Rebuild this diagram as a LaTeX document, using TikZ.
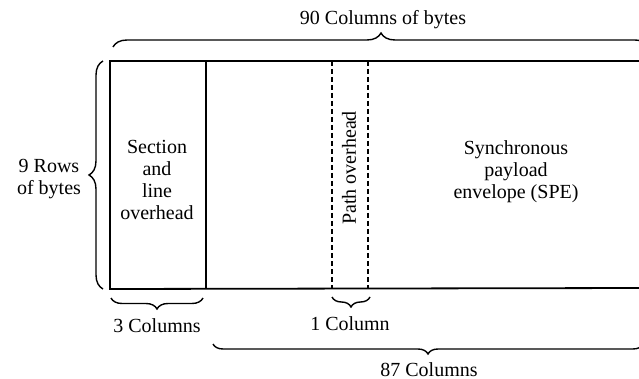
\documentclass[tikz,border=0pt]{standalone}
\usepackage{fontspec}
\setmainfont{Liberation Serif}
\usetikzlibrary{decorations.pathreplacing}
\begin{document}
\begin{tikzpicture}[x=1pt,y=-1pt,
  lbl/.style={font=\fontsize{20}{22}\selectfont, inner sep=0pt, align=center},
  frameline/.style={line width=1.8pt},
  dashline/.style={line width=1.4pt, dash pattern=on 5pt off 3pt},
  bracedeco/.style={decorate, decoration={brace, amplitude=#1}, line width=1.4pt}]
\useasboundingbox (0,0) rectangle (639,379);
\clip (0,0) rectangle (639,379);
% frame
\coordinate (tl) at (110,61);
\coordinate (bl) at (110,289);
\coordinate (tr) at (645,61);
\coordinate (br) at (645,288);
\coordinate (st) at (206,61);
\coordinate (sb) at (206,289);
\coordinate (pat) at (332,61);
\coordinate (pab) at (332,289);
\coordinate (pbt) at (368,61);
\coordinate (pbb) at (368,289);
\draw[frameline] (tr) -- (tl) -- (bl) -- (br);
\draw[frameline] (st) -- (sb);
\draw[dashline] (pat) -- (pab);
\draw[dashline] (pbt) -- (pbb);
% texts
\node[lbl] (sec) at (157,180) {Section\\and\\line\\overhead};
\node[lbl] (spe) at (516,172) {Synchronous\\payload\\envelope (SPE)};
\node[lbl, rotate=90] (path) at (349,168) {Path overhead};
\node[lbl] (rows) at (49,179) {9 Rows\\of bytes};
\node[lbl, anchor=base] (top) at (383,25) {90 Columns of bytes};
\node[lbl, anchor=base] (c3) at (157,332) {3 Columns};
\node[lbl, anchor=base] (c1) at (350,330) {1 Column};
\node[lbl, anchor=base] (c87) at (429,376) {87 Columns};
% braces
\coordinate (b90a) at (113,47);
\coordinate (b90b) at (649,47);
\draw[bracedeco=14] (b90a) -- (b90b);
\coordinate (b9a) at (103,289);
\coordinate (b9b) at (103,61);
\draw[bracedeco=14] (b9a) -- (b9b);
\coordinate (b3a) at (203,298);
\coordinate (b3b) at (111,298);
\draw[bracedeco=11] (b3a) -- (b3b);
\coordinate (b1a) at (370,297);
\coordinate (b1b) at (332,297);
\draw[bracedeco=10] (b1a) -- (b1b);
\coordinate (b87a) at (643,344);
\coordinate (b87b) at (213,344);
\draw[bracedeco=10] (b87a) -- (b87b);
\end{tikzpicture}
\end{document}
